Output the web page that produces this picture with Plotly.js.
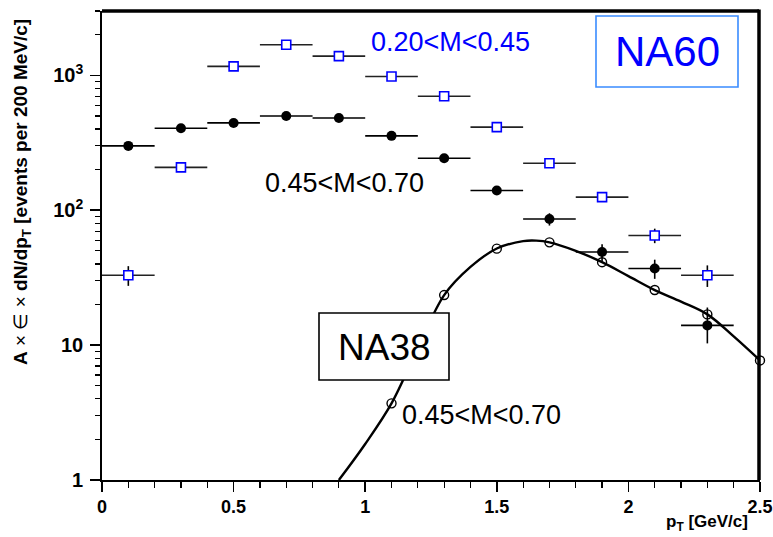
<!DOCTYPE html>
<html>
<head>
<meta charset="utf-8">
<script src="https://cdn.plot.ly/plotly-3.0.1.min.js"></script>
<style>html,body{margin:0;padding:0;background:#fff;}#chart{width:773px;height:537px;}</style>
</head>
<body>
<div id="chart"></div>
<script>
// ---- data ----
const ptBins = [0.1, 0.3, 0.5, 0.7, 0.9, 1.1, 1.3, 1.5, 1.7, 1.9, 2.1, 2.3];
const ptHalfWidth = [0.1, 0.1, 0.1, 0.1, 0.1, 0.1, 0.1, 0.1, 0.1, 0.1, 0.1, 0.1];
// NA60, 0.20<M<0.45 (open blue squares)
const na60LowMass = [33, 208, 1165, 1686, 1389, 981, 700, 413, 223, 125, 65, 33];
const na60LowErr = [5.5, 0, 0, 0, 0, 0, 0, 0, 0, 0, 8, 6];
// NA60, 0.45<M<0.70 (filled black circles)
const na60RhoMass = [300, 405, 444, 500, 483, 356, 243, 140, 86, 49, 37, 14];
const na60RhoErrPlus = [0, 0, 0, 0, 0, 0, 0, 0, 9, 7, 6, 5];
const na60RhoErrMinus = [0, 0, 0, 0, 0, 0, 0, 0, 9, 7, 6, 3.7];
// NA38, 0.45<M<0.70 (open circles)
const na38Pt = [1.1, 1.3, 1.5, 1.7, 1.9, 2.1, 2.3, 2.5];
const na38Values = [3.7, 23.5, 51.9, 57.8, 41.2, 25.6, 16.9, 7.7];
// NA38 curve
const curvePt = [0.9, 1.0, 1.1, 1.2, 1.3, 1.4, 1.5, 1.6, 1.65, 1.7, 1.8, 1.9, 2.0, 2.1, 2.2, 2.3, 2.4, 2.5];
const curveValues = [1.0, 1.85, 3.7, 9.5, 23.5, 38, 52, 59, 59.5, 57.8, 50, 41.2, 32.5, 25.6, 21, 16.9, 11.6, 7.7];
// axis ticks
const xTickVals = [0, 0.5, 1, 1.5, 2, 2.5];
const xTickText = ["<b>0</b>", "<b>0.5</b>", "<b>1</b>", "<b>1.5</b>", "<b>2</b>", "<b>2.5</b>"];
const yTickVals = [1, 10, 100, 1000];
const yTickText = ["<b>1</b>", "<b>10</b>", "<b>10<sup>2</sup></b>", "<b>10<sup>3</sup></b>"];
const yMinorVals = [2,3,4,5,6,7,8,9,20,30,40,50,60,70,80,90,200,300,400,500,600,700,800,900,2000,3000];
const xMinorVals = [0.1,0.2,0.3,0.4,0.6,0.7,0.8,0.9,1.1,1.2,1.3,1.4,1.6,1.7,1.8,1.9,2.1,2.2,2.3,2.4];

const FONT = "Liberation Sans, Arial, Helvetica, sans-serif";
const NARROW = "Liberation Sans Narrow, Arial Narrow, Liberation Sans, Arial, sans-serif";

const traces = [
  {
    x: curvePt, y: curveValues, type: 'scatter', mode: 'lines',
    line: {color: '#000', width: 2.4, shape: 'spline'}, hoverinfo: 'skip', cliponaxis: true
  },
  {
    x: na38Pt, y: na38Values, type: 'scatter', mode: 'markers',
    marker: {symbol: 'circle-open', size: 9, color: '#000', line: {width: 1.4, color: '#000'}},
    cliponaxis: false
  },
  {
    x: ptBins, y: na60RhoMass, type: 'scatter', mode: 'markers',
    marker: {symbol: 'circle', size: 10, color: '#000'},
    error_x: {type: 'data', array: ptHalfWidth, color: '#000', thickness: 1.6, width: 0},
    error_y: {type: 'data', array: na60RhoErrPlus, arrayminus: na60RhoErrMinus, symmetric: false, color: '#000', thickness: 1.6, width: 0},
    cliponaxis: false
  },
  {
    x: ptBins, y: na60LowMass, type: 'scatter', mode: 'markers',
    marker: {symbol: 'square', size: 9, color: '#fff', line: {width: 1.6, color: '#0000ff'}},
    error_x: {type: 'data', array: ptHalfWidth, color: '#222', thickness: 1.6, width: 0},
    error_y: {type: 'data', array: na60LowErr, color: '#000', thickness: 1.6, width: 0},
    cliponaxis: false
  }
];

const L = 102, R = 760, T = 11, B = 480;
const W = 773, H = 537;
const px = (x) => (x - L) / (R - L);
const py = (y) => (B - y) / (B - T);

const layout = {
  width: W, height: H,
  margin: {l: L, r: W - R, t: T, b: H - B, pad: 0},
  paper_bgcolor: '#fff', plot_bgcolor: '#fff',
  showlegend: false,
  font: {family: FONT, color: '#000'},
  xaxis: {
    range: [0, 2.5], showgrid: false, zeroline: false,
    showline: true, linecolor: '#000', linewidth: 1.8,
    ticks: 'outside', ticklen: 10, tickwidth: 1.5, tickcolor: '#000',
    tickmode: 'array', tickvals: xTickVals, ticktext: xTickText,
    tickfont: {family: NARROW, size: 18, color: '#000'},
    minor: {tickmode: 'array', tickvals: xMinorVals, ticklen: 6, tickwidth: 1.2, tickcolor: '#000', showgrid: false}
  },
  yaxis: {
    type: 'log', range: [0, Math.log10(3000)], showgrid: false, zeroline: false,
    showline: true, linecolor: '#000', linewidth: 1.8,
    ticks: 'outside', ticklen: 10, tickwidth: 1.5, tickcolor: '#000',
    tickmode: 'array', tickvals: yTickVals, ticktext: yTickText,
    ticklabelstandoff: 3,
    tickfont: {family: NARROW, size: 20, color: '#000'},
    minor: {tickmode: 'array', tickvals: yMinorVals, ticklen: 5, tickwidth: 1.2, tickcolor: '#000', showgrid: false}
  },
  shapes: [
    {type: 'line', xref: 'paper', yref: 'paper', x0: 0, x1: px(759), y0: 1, y1: 1, line: {color: '#000', width: 3.5}},
    {type: 'line', xref: 'paper', yref: 'paper', x0: px(759), x1: px(759), y0: 0, y1: 1.003, line: {color: '#000', width: 3.5}},
    {type: 'rect', xref: 'paper', yref: 'paper', x0: px(596), x1: px(738), y0: py(87), y1: py(16),
      line: {color: '#3a8cff', width: 1.6}, fillcolor: 'rgba(255,255,255,0)', layer: 'above'},
    {type: 'rect', xref: 'paper', yref: 'paper', x0: px(319), x1: px(449), y0: py(380), y1: py(313),
      line: {color: '#000', width: 1.6}, fillcolor: '#fff', layer: 'above'}
  ],
  annotations: [
    {xref: 'paper', yref: 'paper', x: px(667), y: py(52), text: 'NA60', showarrow: false,
      xanchor: 'center', yanchor: 'middle', font: {family: FONT, size: 42, color: '#0000ff'}},
    {xref: 'paper', yref: 'paper', x: px(384), y: py(347), text: 'NA38', showarrow: false,
      xanchor: 'center', yanchor: 'middle', font: {family: FONT, size: 37, color: '#000'}},
    {xref: 'paper', yref: 'paper', x: px(451), y: py(42), text: '0.20&lt;M&lt;0.45', showarrow: false,
      xanchor: 'center', yanchor: 'middle', font: {family: FONT, size: 27, color: '#0000ff'}},
    {xref: 'paper', yref: 'paper', x: px(344), y: py(183), text: '0.45&lt;M&lt;0.70', showarrow: false,
      xanchor: 'center', yanchor: 'middle', font: {family: FONT, size: 27, color: '#000'}},
    {xref: 'paper', yref: 'paper', x: px(481), y: py(415), text: '0.45&lt;M&lt;0.70', showarrow: false,
      xanchor: 'center', yanchor: 'middle', font: {family: FONT, size: 27, color: '#000'}},
    {xref: 'paper', yref: 'paper', x: px(707), y: py(523), text: '<b>p<sub>T</sub> [GeV/c]</b>', showarrow: false,
      xanchor: 'center', yanchor: 'middle', font: {family: FONT, size: 17, color: '#000'}},
    {xref: 'paper', yref: 'paper', x: px(22), y: py(192), textangle: -90,
      text: '<b>A</b> × ∈ × <b>dN/dp<sub>T</sub> [events per 200 MeV/c]</b>', showarrow: false,
      xanchor: 'center', yanchor: 'middle', font: {family: FONT, size: 19, color: '#000'}}
  ]
};

Plotly.newPlot('chart', traces, layout, {staticPlot: true, displayModeBar: false});
</script>
</body>
</html>
